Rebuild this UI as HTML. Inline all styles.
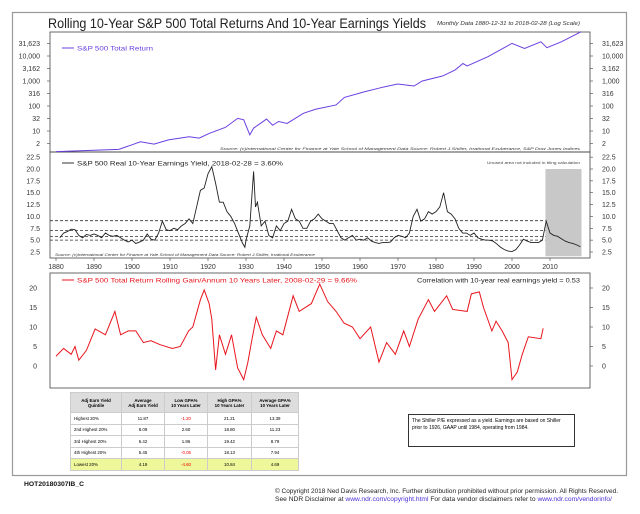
<!DOCTYPE html>
<html><head><meta charset="utf-8"><style>
body{margin:0;background:#fff;width:640px;height:514px;overflow:hidden;font-family:"Liberation Sans",sans-serif}
svg{position:absolute;left:0;top:0}
table{position:absolute;left:70px;top:392px;border-collapse:collapse;font-size:4.4px;font-family:"Liberation Sans",sans-serif}
td,th{border:1px solid #ccc;text-align:center;padding:0;height:10.5px}
th{background:#ddd;font-weight:bold;height:19px}
td:first-child{text-align:left;padding-left:3px}
.neg{color:#e00}
tr.low td{background:#eef79a}
</style></head><body>
<svg width="640" height="514" id="chart"></svg>
<table>
<tr><th style="width:50px">Adj Earn Yield<br>Quintile</th><th style="width:42px">Average<br>Adj Earn Yield</th><th style="width:42px">Low GPA%<br>10 Years Later</th><th style="width:43px">High GPA%<br>10 Years Later</th><th style="width:46px">Average GPA%<br>10 Years Later</th></tr>
<tr><td>Highest 20%</td><td>11.87</td><td class="neg">-1.20</td><td>21.21</td><td>13.39</td></tr>
<tr><td>2nd Highest 20%</td><td>8.09</td><td>2.60</td><td>18.80</td><td>11.23</td></tr>
<tr><td>3rd Highest 20%</td><td>6.42</td><td>1.86</td><td>19.42</td><td>8.79</td></tr>
<tr><td>4th Highest 20%</td><td>5.45</td><td class="neg">-0.05</td><td>18.13</td><td>7.94</td></tr>
<tr class="low"><td>Lowest 20%</td><td>4.19</td><td class="neg">-4.60</td><td>10.84</td><td>4.69</td></tr>
</table>
<div style="position:absolute;left:408px;top:414px;width:167px;height:33px;border:1px solid #333;font-size:5px;line-height:7px;padding:3px 3px;box-sizing:border-box">The Shiller P/E expressed as a yield. Earnings are based on Shiller prior to 1926, GAAP until 1984, operating from 1984.</div>
<script>
const totYears=[1880,1896.5,1900,1902.2,1905.8,1909.6,1915,1917.7,1920.3,1924.6,1927.8,1929.4,1931,1932,1935.4,1937,1938.6,1940.8,1945.1,1948.3,1953.7,1955.9,1961.2,1965.5,1969.9,1974.2,1976.4,1981.7,1985,1987.1,1988.2,1993.6,2000,2003.3,2007.6,2009.2,2013,2018.2];
const totValues=[1.5,1.85,2.8,3.7,3.0,4.4,5.9,5.2,8,14,32,28,7,13,30,17,24,20,51,74,110,220,370,540,760,630,1000,1580,2750,5000,4000,9300,32000,20000,37000,21500,37000,94000];
const topTicks=[31623,10000,3162,1000,316,100,32,10,3.162];
const topTickLabels=["31,623","10,000","3,162","1,000","316","100","32","10","2"];
const eyYears=[1881,1882,1883,1884,1885,1886,1887,1888,1889,1890,1891,1892,1893,1894,1895,1896,1897,1898,1899,1900,1901,1902,1903,1904,1905,1906,1907,1908,1909,1910,1911,1912,1913,1914,1915,1916,1917,1918,1919,1920,1921,1922,1923,1924,1925,1926,1927,1928,1929,1929.7,1930,1931,1932,1932.5,1933,1934,1935,1936,1937,1938,1939,1940,1941,1942,1943,1944,1945,1946,1947,1948,1949,1950,1951,1952,1953,1954,1955,1956,1957,1958,1959,1960,1961,1962,1963,1964,1965,1966,1967,1968,1969,1970,1971,1972,1973,1974,1975,1976,1977,1978,1979,1980,1981,1982,1983,1984,1985,1986,1987,1988,1989,1990,1991,1992,1993,1994,1995,1996,1997,1998,1999,2000,2001,2002,2003,2004,2005,2006,2007,2008,2009,2010,2011,2012,2013,2014,2015,2016,2017,2018];
const eyValues=[5.5,6.5,6.8,7.3,7.2,6.0,5.5,6.2,6.0,6.3,6.0,5.5,6.5,6.0,5.8,6.0,5.5,5.0,4.6,5.0,4.3,4.6,5.0,6.3,5.2,5.0,6.5,9.0,7.2,7.0,7.5,7.2,8.0,8.5,9.5,8.5,12,15.5,16,19,20.5,17,13,13,11,10,8.5,6.5,4.5,3.5,5,8,19.5,12,13,8,9,6,5.5,8,7,8.5,9,11.5,9.5,9,7.5,7.5,9,9.5,10.5,9.5,9,8.5,8.5,7,5.5,5,5.5,6,5,5.2,5,5.5,4.8,4.5,4.3,4.5,4.5,4.6,5.5,6,5.8,5.5,6.5,10,11.5,9,9.5,11,10.5,11,12,15,11,10.5,9.5,7.5,6.5,6.5,6,6.5,5.5,5.2,5,5,4.8,4.2,3.5,3.0,2.7,2.6,3.0,4.0,5.2,4.8,4.5,4.5,4.5,5.0,9.0,6.5,6.0,5.8,5.3,4.8,4.5,4.3,4.0,3.6];
const eyTicks=[22.5,20,17.5,15,12.5,10,7.5,5,2.5];
const eyTickLabels=["22.5","20.0","17.5","15.0","12.5","10.0","7.5","5.0","2.5"];
const quintileLines=[9.1,7.0,5.8,5.0];
const yearTicks=[1880,1890,1900,1910,1920,1930,1940,1950,1960,1970,1980,1990,2000,2010];
const redYears=[1880,1882,1884,1885,1886,1888,1890.3,1893,1895.5,1897,1899,1901,1903,1905,1907.3,1910.6,1912.7,1914.9,1916,1918,1919,1920.3,1921,1922,1923,1924.6,1926.2,1927.8,1929.4,1930.5,1931.6,1932.7,1934.3,1936.5,1938,1939.7,1942.4,1944,1947.2,1949.4,1951.5,1953.7,1955.8,1958,1960,1962.8,1965,1967,1969.3,1971.5,1973,1975.3,1978,1979.6,1982.8,1984.4,1988.2,1989.3,1991.4,1992.5,1994.7,1995.8,1997.4,1999,2000,2001.4,2002.7,2004.3,2007.6,2008.2];
const redValues=[2.5,4.5,3,5,1.5,4,9.5,8,14,8,9,9,6,6.5,5.5,4.5,5,9,10,17,19.5,16,12,-1,8,3,8,-0.5,-3.5,1,7,12.5,8,4.5,9,8,18,14,16,21,16.5,14,11,10,7,10,1,6,3,9,5,12,17,14,18,14.5,14,18.5,19,15,9,11.5,9,6,-3.5,-1.5,3,7.5,7,9.66];
const redTicks=[20,15,10,5,0];

const S=document.getElementById('chart');const NS='http://www.w3.org/2000/svg';
function mk(tag,attrs,name,txt){const e=document.createElementNS(NS,tag);for(const k in attrs)e.setAttribute(k,attrs[k]);


if(txt!==undefined)e.textContent=txt;S.appendChild(e);return e;}
function fit(e,w){e.setAttribute('textLength',w);e.setAttribute('lengthAdjust','spacingAndGlyphs');return e;}
const X=yr=>56+(yr-1880)*3.8;
const yTop=v=>131-(Math.log10(v)-1)*25;
const yMid=v=>252-(v-2.5)*4.743;
const yBot=v=>366-v*3.9;
const L=50,R=590;
mk('rect',{x:12.5,y:12.5,width:614,height:463,fill:'none',stroke:'#999','stroke-width':1.2},'outer-frame');
fit(mk('text',{x:48,y:28,'font-size':14,fill:'#222'},'chart-title','Rolling 10-Year S&P 500 Total Returns And 10-Year Earnings Yields'),378);
fit(mk('text',{x:437,y:25,'font-size':5.5,'font-style':'italic',fill:'#333'},'subtitle','Monthly Data 1880-12-31 to 2018-02-28 (Log Scale)'),143);
mk('rect',{x:L,y:32,width:R-L,height:120,fill:'none',stroke:'#444','stroke-width':0.8},'top-panel');
mk('rect',{x:L,y:152,width:R-L,height:106,fill:'none',stroke:'#444','stroke-width':0.8},'middle-panel');
mk('rect',{x:L,y:273,width:R-L,height:115,fill:'none',stroke:'#444','stroke-width':0.8},'bottom-panel');
topTicks.forEach((t,i)=>{const y=yTop(t);
mk('text',{x:40,y:y+2.5,'font-size':7,'text-anchor':'end',fill:'#333'},'top-y-tick-left',topTickLabels[i]);
mk('text',{x:602,y:y+2.5,'font-size':7,fill:'#333'},'top-y-tick-right',topTickLabels[i]);
mk('line',{x1:L-3,x2:L,y1:y,y2:y,stroke:'#444','stroke-width':0.6},'top-tick');
mk('line',{x1:R,x2:R+3,y1:y,y2:y,stroke:'#444','stroke-width':0.6},'top-tick');});
mk('polyline',{points:totYears.map((yr,i)=>X(yr)+','+yTop(totValues[i])).join(' '),fill:'none',stroke:'#6a3fe0','stroke-width':1},'total-return-line');
mk('line',{x1:62,x2:74,y1:48,y2:48,stroke:'#6a3fe0','stroke-width':1},'legend-swatch-total');
fit(mk('text',{x:77,y:50.5,'font-size':6.5,fill:'#6a3fe0'},'legend-total-return','S&P 500 Total Return'),76);
fit(mk('text',{x:220,y:150,'font-size':3.8,'font-style':'italic',fill:'#333'},'top-source','Source: (c)International Center for Finance at Yale School of Management Data Source: Robert J.Shiller, Irrational Exuberance, S&P Dow Jones Indices'),360);
mk('rect',{x:X(2008.8),y:yMid(20),width:X(2018.3)-X(2008.8),height:yMid(1.6)-yMid(20),fill:'#c8c8c8'},'unused-area-shade');
eyTicks.forEach((t,i)=>{const y=yMid(t);
mk('text',{x:40,y:y+2.5,'font-size':7,'text-anchor':'end',fill:'#333'},'mid-y-tick-left',eyTickLabels[i]);
mk('text',{x:602,y:y+2.5,'font-size':7,fill:'#333'},'mid-y-tick-right',eyTickLabels[i]);
mk('line',{x1:R,x2:R+3,y1:y,y2:y,stroke:'#444','stroke-width':0.6},'mid-tick');});
quintileLines.forEach(q=>{mk('line',{x1:L,x2:X(2008.8),y1:yMid(q),y2:yMid(q),stroke:'#333','stroke-width':0.8,'stroke-dasharray':'3,2'},'quintile-line');});
mk('polyline',{points:eyYears.map((yr,i)=>X(yr)+','+yMid(eyValues[i])).join(' '),fill:'none',stroke:'#222','stroke-width':0.9},'earnings-yield-line');
mk('line',{x1:62,x2:74,y1:163,y2:163,stroke:'#333','stroke-width':1},'legend-swatch-yield');
fit(mk('text',{x:77,y:165.5,'font-size':6.5,fill:'#222'},'legend-earnings-yield','S&P 500 Real 10-Year Earnings Yield,  2018-02-28 = 3.60%'),206);
fit(mk('text',{x:487,y:164,'font-size':3.5,fill:'#444'},'unused-note','Unused area not included in tiling calculation'),93);
fit(mk('text',{x:55,y:256,'font-size':3.6,'font-style':'italic',fill:'#333'},'mid-source','Source: (c)International Center for Finance at Yale School of Management Data Source: Robert J.Shiller, Irrational Exuberance'),260);
yearTicks.forEach(yr=>{mk('text',{x:X(yr),y:269,'font-size':7,'text-anchor':'middle',fill:'#333'},'x-tick-label',String(yr));
mk('line',{x1:X(yr),x2:X(yr),y1:258,y2:261,stroke:'#444','stroke-width':0.6},'x-tick');});
redTicks.forEach(t=>{const y=yBot(t);
mk('text',{x:37,y:y+2.5,'font-size':7,'text-anchor':'end',fill:'#333'},'bot-y-tick-left',String(t));
mk('text',{x:602,y:y+2.5,'font-size':7,fill:'#333'},'bot-y-tick-right',String(t));
mk('line',{x1:R,x2:R+3,y1:y,y2:y,stroke:'#444','stroke-width':0.6},'bot-tick');});
mk('polyline',{points:redYears.map((yr,i)=>X(yr)+','+yBot(redValues[i])).join(' '),fill:'none',stroke:'#e8141c','stroke-width':1},'rolling-gain-line');
mk('line',{x1:62,x2:74,y1:280,y2:280,stroke:'#e8141c','stroke-width':1},'legend-swatch-gain');
fit(mk('text',{x:77,y:282.5,'font-size':6.5,fill:'#e8141c'},'legend-rolling-gain','S&P 500 Total Return Rolling Gain/Annum 10 Years Later,  2008-02-29 = 9.66%'),280);
fit(mk('text',{x:417,y:282.5,'font-size':6.2,fill:'#222'},'correlation-note','Correlation with 10-year real earnings yield = 0.53'),163);
fit(mk('text',{x:24,y:486,'font-size':6,'font-weight':'bold',fill:'#111'},'chart-code','HOT20180307IB_C'),60);
fit(mk('text',{x:275,y:493,'font-size':6,fill:'#222'},'copyright-line','© Copyright 2018 Ned Davis Research, Inc. Further distribution prohibited without prior permission. All Rights Reserved.'),343);
const t2=fit(mk('text',{x:275,y:501,'font-size':6,fill:'#222'},'disclaimer-line',''),337);
t2.innerHTML='See NDR Disclaimer at <tspan fill="#4b2fd6">www.ndr.com/copyright.html</tspan>   For data vendor disclaimers refer to <tspan fill="#4b2fd6">www.ndr.com/vendorinfo/</tspan>';
</script>
</body></html>
